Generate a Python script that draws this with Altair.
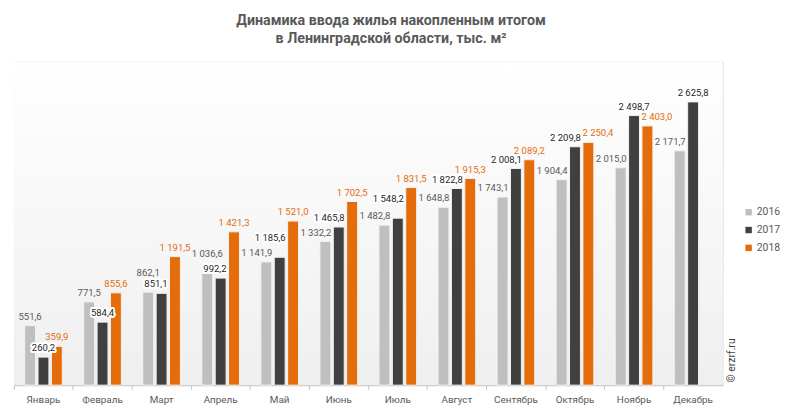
import altair as alt
import pandas as pd

months = ["Январь", "Февраль", "Март", "Апрель", "Май", "Июнь", "Июль",
          "Август", "Сентябрь", "Октябрь", "Ноябрь", "Декабрь"]
years = ["2016", "2017", "2018"]
v2016 = [551.6, 771.5, 862.1, 1036.6, 1141.9, 1332.2, 1482.8, 1648.8, 1743.1, 1904.4, 2015.0, 2171.7]
v2017 = [260.2, 584.4, 851.1, 992.2, 1185.6, 1465.8, 1548.2, 1822.8, 2008.1, 2209.8, 2498.7, 2625.8]
v2018 = [359.9, 855.6, 1191.5, 1421.3, 1521.0, 1702.5, 1831.5, 1915.3, 2089.2, 2250.4, 2403.0, None]

rows = []
for yy, vals in zip(years, [v2016, v2017, v2018]):
    for i, (m, v) in enumerate(zip(months, vals)):
        if v is not None:
            lab = f"{v:,.1f}".replace(",", " ").replace(".", ",")
            # when the 2016 and 2017 bars are close in height, lift the taller one's label
            lift = False
            if yy in ("2016", "2017") and abs(v2017[i] - v2016[i]) < 100:
                lift = (yy == "2016") == (v2016[i] > v2017[i])
            rows.append({"month": m, "year": yy, "value": v, "label": lab, "lift": lift})
df = pd.DataFrame(rows)

bar_colors = ["#bfbfbf", "#404040", "#e46c0a"]
text_colors = ["#595959", "#262626", "#e46c0a"]

W, H = 716, 327
FS = 9.6

x = alt.X("month:N", sort=months, title=None,
          scale=alt.Scale(paddingInner=0, paddingOuter=0),
          axis=alt.Axis(labelAngle=0, bandPosition=0, ticks=True, tickSize=4,
                        tickColor="#bfbfbf", domainColor="#bfbfbf",
                        labelColor="#595959", labelFontSize=10, labelFont="Roboto",
                        labelPadding=6, grid=False))
xo = alt.XOffset("year:N", sort=years,
                 scale=alt.Scale(paddingInner=0.185, paddingOuter=0.8))
y = alt.Y("value:Q", scale=alt.Scale(domain=[0, 3000]), axis=None)
tcolor = alt.Color("year:N", sort=years, scale=alt.Scale(domain=years, range=text_colors),
                   legend=None)

base = alt.Chart(df)

bg = alt.Chart(pd.DataFrame({"a": [0]})).mark_rect(
    color=alt.LinearGradient(gradient="linear", x1=0, y1=0, x2=0, y2=1,
                             stops=[alt.GradientStop(offset=0, color="#ffffff"),
                                    alt.GradientStop(offset=1, color="#efefef")])
).encode(x=alt.value(0), x2=alt.value(W), y=alt.value(0), y2=alt.value(H))

bars = base.mark_bar(stroke="#f2f2f2", strokeWidth=1).encode(
    x=x, xOffset=xo, y=y,
    color=alt.Color("year:N", sort=years, title=None,
                    scale=alt.Scale(domain=years, range=bar_colors),
                    legend=alt.Legend(orient="none", legendX=737, legendY=147,
                                      symbolType="square", symbolSize=42,
                                      labelFontSize=10.5, labelColor="#595959",
                                      labelFont="Roboto", rowPadding=7, labelOffset=3,
                                      symbolStrokeWidth=0)),
)

right_cond = "(datum.year == '2016' && datum.value >= 1100) || (datum.year == '2017' && datum.value >= 800 && datum.value < 2400)"
left_cond = "datum.year == '2018' && datum.value >= 2200"
center_cond = f"!({right_cond}) && !({left_cond})"

layers = []
for cond, align, dx in [(center_cond, "center", 0), (right_cond, "right", 6), (left_cond, "left", -6)]:
    for lifted, dy in [(False, -4), (True, -14)]:
        sub = base.transform_filter(cond).transform_filter(
            "datum.lift" if lifted else "!datum.lift")
        halo = sub.transform_filter(alt.datum.year == "2017").mark_text(
            baseline="bottom", dy=dy, dx=dx, align=align, fontSize=FS, font="Roboto",
            stroke="white", strokeWidth=4, strokeJoin="round", fill="white"
        ).encode(x=x, xOffset=xo, y=y, text="label:N")
        txt = sub.mark_text(baseline="bottom", dy=dy, dx=dx, align=align, fontSize=FS,
                            font="Roboto").encode(x=x, xOffset=xo, y=y, text="label:N",
                                                  color=tcolor)
        layers += [halo, txt]

watermark = alt.Chart(pd.DataFrame({"t": ["© erzrf.ru"]})).mark_text(
    angle=270, fontSize=10.5, font="Roboto", color="#404040", align="center", baseline="middle"
).encode(x=alt.value(725), y=alt.value(302), text="t:N")

chart = alt.layer(bg, bars, *layers, watermark).resolve_scale(color="independent").properties(
    width=W, height=H,
    title=alt.TitleParams(
        ["Динамика ввода жилья накопленным итогом", "в Ленинградской области, тыс. м²"],
        fontSize=14.4, font="Roboto", fontWeight="bold", color="#595959",
        anchor="middle", offset=15, lineHeight=18, dx=23),
    autosize=alt.AutoSizeParams(type="none"),
    padding={"left": 6, "top": 52, "right": 63, "bottom": 20},
).configure_view(
    stroke="#d9d9d9",
).configure(background="white")

chart.save("out.html", embed_options={"renderer": "svg", "actions": False})
